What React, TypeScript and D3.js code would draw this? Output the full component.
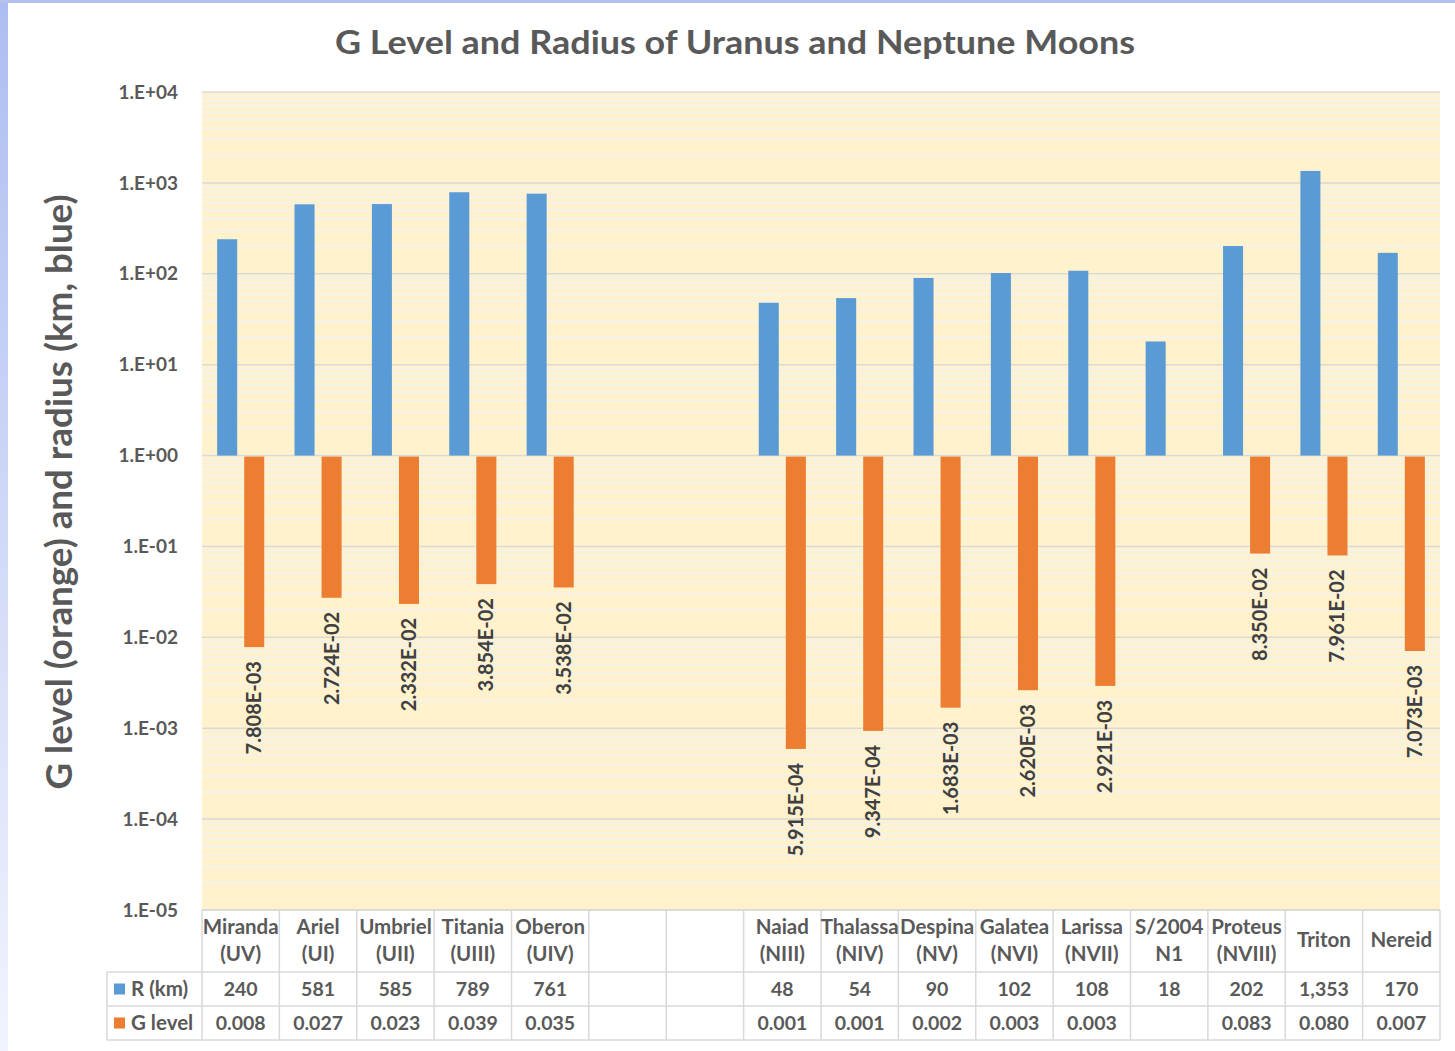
import React from 'react';
import * as d3 from 'd3';

// categories (two-line labels in the data table)
const moonNames = ['Miranda', 'Ariel', 'Umbriel', 'Titania', 'Oberon', '', '', 'Naiad', 'Thalassa', 'Despina', 'Galatea', 'Larissa', 'S/2004', 'Proteus', 'Triton', 'Nereid'];
const moonCodes = ['(UV)', '(UI)', '(UII)', '(UIII)', '(UIV)', '', '', '(NIII)', '(NIV)', '(NV)', '(NVI)', '(NVII)', 'N1', '(NVIII)', '', ''];

// series
const radiusKm: (number | null)[] = [240, 581, 585, 789, 761, null, null, 48, 54, 90, 102, 108, 18, 202, 1353, 170];
const gLevel: (number | null)[] = [7.808e-3, 2.724e-2, 2.332e-2, 3.854e-2, 3.538e-2, null, null, 5.915e-4, 9.347e-4, 1.683e-3, 2.62e-3, 2.921e-3, null, 8.3497e-2, 7.961e-2, 7.073e-3];

// axis
const yTicks = [1e-5, 1e-4, 1e-3, 1e-2, 1e-1, 1e0, 1e1, 1e2, 1e3, 1e4];
const yTickLabels = ['1.E-05', '1.E-04', '1.E-03', '1.E-02', '1.E-01', '1.E+00', '1.E+01', '1.E+02', '1.E+03', '1.E+04'];

const W = 1455;
const H = 1051;
const FONT = "Lato, 'Open Sans', sans-serif";
const TXT = '#595959';
const BLUE = '#5B9BD5';
const ORANGE = '#ED7D31';

const expLabel = (v: number) => {
  const [m, e] = v.toExponential(3).split('e');
  const n = Math.abs(+e);
  return `${m}E${+e < 0 ? '-' : '+'}${n < 10 ? '0' : ''}${n}`;
};

const App: React.FC = () => {
  const plot = { left: 202, right: 1440, top: 92, bottom: 910 };
  const rows = { cat: 910, r: 972, g: 1006, end: 1040 };
  const keys = moonNames.map((_, i) => String(i));

  const x = d3.scaleBand<string>().domain(keys).range([plot.left, plot.right]);
  const xs = d3.scaleBand<string>().domain(['r', 'g']).range([0, x.bandwidth()]).paddingInner(0.26).paddingOuter(0.56);
  const y = d3.scaleLog().domain([1e-5, 1e4]).range([plot.bottom, plot.top]);

  const minor: number[] = [];
  for (let d = -5; d < 4; d++) for (let k = 2; k <= 9; k++) minor.push(k * Math.pow(10, d));

  const y1 = y(1);
  const rFmt = d3.format(',');

  return (
    <svg width={W} height={H} style={{ position: 'absolute', left: 0, top: 0, display: 'block' }} fontFamily={FONT}>
      <defs>
        <linearGradient id="edge" x1="0" y1="0" x2="0" y2="1">
          <stop offset="0" stopColor="#aebdf1" />
          <stop offset="1" stopColor="#f1f4fd" />
        </linearGradient>
      </defs>
      <rect width={W} height={H} fill="#fff" />
      <rect x={0} y={0} width={8} height={H} fill="url(#edge)" />
      <rect x={0} y={0} width={W} height={3} fill="#b3c1f0" />

      <text x={735} y={54} textAnchor="middle" fontSize={32} fontWeight="bold" fill={TXT} textLength={800} lengthAdjust="spacingAndGlyphs">
        G Level and Radius of Uranus and Neptune Moons
      </text>

      {/* plot background and gridlines */}
      <rect x={plot.left} y={plot.top} width={plot.right - plot.left} height={plot.bottom - plot.top} fill="#FFF2CC" />
      {minor.map((v, i) => (
        <line key={'m' + i} x1={plot.left} x2={plot.right} y1={y(v)} y2={y(v)} stroke="#F4F1EA" strokeWidth={2} />
      ))}
      {yTicks.map((v, i) => (
        <line key={'g' + i} x1={plot.left} x2={plot.right} y1={y(v)} y2={y(v)} stroke="#D9D9D9" strokeWidth={1.5} />
      ))}
      {yTicks.map((v, i) => (
        <text key={'t' + i} x={178} y={y(v)} dy="0.35em" textAnchor="end" fontSize={19} fontWeight="bold" fill={TXT}>
          {yTickLabels[i]}
        </text>
      ))}

      <text transform={`translate(72,492) rotate(-90)`} textAnchor="middle" fontSize={36} fontWeight="bold" fill={TXT} textLength={595} lengthAdjust="spacingAndGlyphs">
        G level (orange) and radius (km, blue)
      </text>

      {/* bars */}
      {radiusKm.map((v, i) =>
        v == null ? null : (
          <rect key={'r' + i} x={x(keys[i])! + xs('r')!} y={y(v)} width={xs.bandwidth()} height={y1 - y(v)} fill={BLUE} />
        )
      )}
      {gLevel.map((v, i) =>
        v == null ? null : (
          <rect key={'o' + i} x={x(keys[i])! + xs('g')!} y={y1 + 1} width={xs.bandwidth()} height={y(v) - y1 - 1} fill={ORANGE} />
        )
      )}
      {gLevel.map((v, i) =>
        v == null ? null : (
          <text
            key={'l' + i}
            transform={`translate(${x(keys[i])! + xs('g')! + xs.bandwidth() / 2},${y(v) + 14}) rotate(-90)`}
            textAnchor="end"
            dy="0.35em"
            fontSize={20}
            fontWeight="bold"
            fill="#404040"
          >
            {expLabel(v)}
          </text>
        )
      )}

      {/* data table */}
      <g stroke="#D9D9D9" strokeWidth={1.5}>
        <line x1={plot.left} x2={plot.right} y1={rows.cat} y2={rows.cat} />
        <line x1={107} x2={plot.right} y1={rows.r} y2={rows.r} />
        <line x1={107} x2={plot.right} y1={rows.g} y2={rows.g} />
        <line x1={107} x2={plot.right} y1={rows.end} y2={rows.end} />
        <line x1={107} x2={107} y1={rows.r} y2={rows.end} />
        {keys.map((k) => (
          <line key={'v' + k} x1={x(k)!} x2={x(k)!} y1={rows.cat} y2={rows.end} />
        ))}
        <line x1={plot.right} x2={plot.right} y1={rows.cat} y2={rows.end} />
      </g>
      {keys.map((k, i) => {
        const cx = x(k)! + x.bandwidth() / 2;
        const two = moonCodes[i] !== '';
        return (
          <g key={'c' + k} fill={TXT} textAnchor="middle" fontWeight="bold">
            {two ? (
              <>
                <text x={cx} y={(rows.cat + rows.r) / 2 - 14} dy="0.35em" fontSize={20.5}>{moonNames[i]}</text>
                <text x={cx} y={(rows.cat + rows.r) / 2 + 13} dy="0.35em" fontSize={20.5}>{moonCodes[i]}</text>
              </>
            ) : (
              <text x={cx} y={(rows.cat + rows.r) / 2 - 1} dy="0.35em" fontSize={20.5}>{moonNames[i]}</text>
            )}
            <text x={cx} y={(rows.r + rows.g) / 2} dy="0.35em" fontSize={19.5}>{radiusKm[i] == null ? '' : rFmt(radiusKm[i]!)}</text>
            <text x={cx} y={(rows.g + rows.end) / 2} dy="0.35em" fontSize={19.5}>{gLevel[i] == null ? '' : gLevel[i]!.toFixed(3)}</text>
          </g>
        );
      })}
      <rect x={114} y={(rows.r + rows.g) / 2 - 5.5} width={11} height={11} fill={BLUE} />
      <rect x={114} y={(rows.g + rows.end) / 2 - 5.5} width={11} height={11} fill={ORANGE} />
      <text x={131} y={(rows.r + rows.g) / 2} dy="0.35em" fontSize={20.5} fontWeight="bold" fill={TXT}>R (km)</text>
      <text x={131} y={(rows.g + rows.end) / 2} dy="0.35em" fontSize={20.5} fontWeight="bold" fill={TXT}>G level</text>
    </svg>
  );
};

export default App;
